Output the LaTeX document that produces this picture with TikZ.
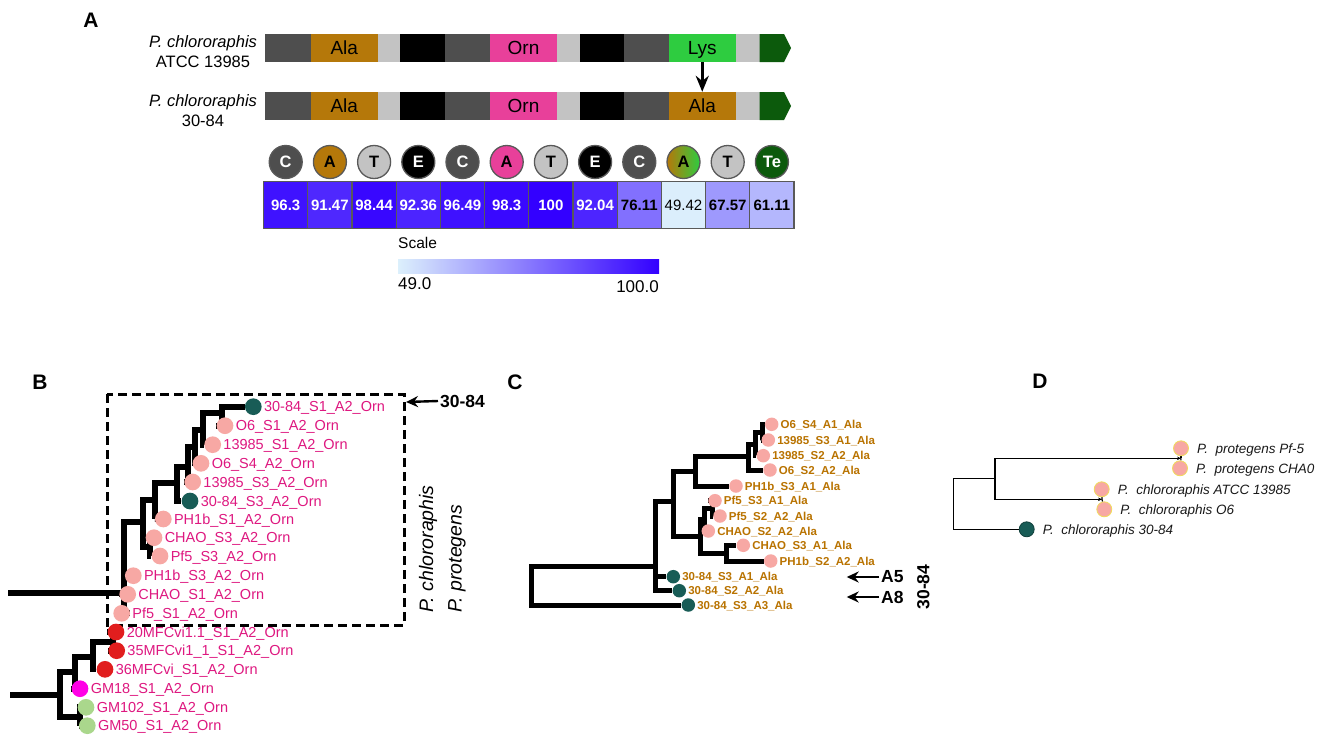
\documentclass[tikz,border=0pt]{standalone}
\usepackage{fontspec}
\setmainfont{Liberation Sans}
\usetikzlibrary{arrows.meta}
\pgfdeclarelayer{bg}
\pgfsetlayers{bg,main}
\definecolor{dg}{RGB}{78,78,78}
\definecolor{ala}{RGB}{181,120,10}
\definecolor{lg}{RGB}{195,195,195}
\definecolor{orn}{RGB}{232,64,154}
\definecolor{lys}{RGB}{46,204,64}
\definecolor{te}{RGB}{12,90,12}
\definecolor{lo}{RGB}{220,240,252}
\definecolor{hi}{RGB}{51,0,255}
\definecolor{tealc}{RGB}{24,92,86}
\definecolor{pinkc}{RGB}{247,168,164}
\definecolor{redc}{RGB}{225,30,30}
\definecolor{magc}{RGB}{255,0,230}
\definecolor{grnc}{RGB}{170,215,140}
\definecolor{ornlab}{RGB}{222,24,128}
\definecolor{alalab}{RGB}{185,115,0}
\definecolor{yelc}{RGB}{240,220,90}
\tikzset{
  seg/.style={rectangle, inner sep=0pt, minimum height=28pt, text height=13.7pt, text depth=0pt, font=\fontsize{19}{19}\selectfont},
  dom/.style={circle, inner sep=0pt, minimum size=33pt, draw=black!65, line width=1.3pt, font=\bfseries\fontsize{16.5}{16.5}\selectfont},
  idbox/.style={rectangle, inner sep=0pt, minimum width=44.2pt, minimum height=47pt, draw=black!65, line width=1.2pt, font=\fontsize{15}{15}\selectfont},
  panel/.style={inner sep=0pt, font=\bfseries\fontsize{21}{21}\selectfont},
  spA/.style={align=center, inner sep=0pt, font=\fontsize{16.5}{20}\selectfont},
  treeB/.style={line width=6pt},
  treeC/.style={line width=5pt},
  treeD/.style={line width=1.2pt},
  leafB/.style={circle, inner sep=0pt, minimum size=16.7pt},
  leafC/.style={circle, inner sep=0pt, minimum size=13.5pt},
  leafD/.style={circle, inner sep=0pt, minimum size=15pt, draw=yelc, line width=0.8pt},
  labB/.style={anchor=west, inner sep=0pt, text=ornlab, text height=10.4pt, text depth=0pt, font=\fontsize{14.5}{14.5}\selectfont},
  labC/.style={anchor=west, inner sep=0pt, text=alalab, text height=8.3pt, text depth=0pt, font=\bfseries\fontsize{11.5}{11.5}\selectfont},
  labD/.style={anchor=west, inner sep=0pt, text=black!90, text height=9.7pt, text depth=0pt, font=\itshape\fontsize{13.5}{13.5}\selectfont},
  sidelab/.style={inner sep=2pt, font=\bfseries\fontsize{17.5}{17.5}\selectfont},
  rotlab/.style={rotate=90, anchor=west, inner sep=0pt, font=\itshape\fontsize{19.5}{19.5}\selectfont},
  arrow/.style={line width=2.4pt, -{Stealth[length=12pt,width=11pt]}},
}
\begin{document}
\begin{tikzpicture}[x=1pt,y=-1pt]
\useasboundingbox (0,0) rectangle (1325,745);
\begin{pgfonlayer}{bg}
\fill[white] (0,0) rectangle (1325,745);
\end{pgfonlayer}

% ---------- panel labels
\node[panel] (pA) at (91,20) {A};
\node[panel] (pB) at (40,382) {B};
\node[panel] (pC) at (515,382) {C};
\node[panel] (pD) at (1040,381) {D};

% ---------- panel A
\node[spA] (sp1) at (203,52) {{\itshape P. chlororaphis}\\ATCC 13985};
\node[spA] (sp2) at (203,111) {{\itshape P. chlororaphis}\\30-84};

\foreach \r/\yy/\lab/\col in {1/48/Lys/lys, 2/106/Ala/ala} {
  \node[seg, fill=dg, minimum width=46pt] (r\r-s1) at (288,\yy) {};
  \node[seg, fill=ala, minimum width=66.5pt] (r\r-s2) at (344.25,\yy) {Ala};
  \node[seg, fill=lg, minimum width=22.5pt] (r\r-s3) at (388.75,\yy) {};
  \node[seg, fill=black, minimum width=45pt] (r\r-s4) at (422.5,\yy) {};
  \node[seg, fill=dg, minimum width=45pt] (r\r-s5) at (467.5,\yy) {};
  \node[seg, fill=orn, minimum width=67pt] (r\r-s6) at (523.5,\yy) {Orn};
  \node[seg, fill=lg, minimum width=23pt] (r\r-s7) at (568.5,\yy) {};
  \node[seg, fill=black, minimum width=44pt] (r\r-s8) at (602,\yy) {};
  \node[seg, fill=dg, minimum width=45pt] (r\r-s9) at (646.5,\yy) {};
  \node[seg, fill=\col, minimum width=66.5pt] (r\r-s10) at (702.25,\yy) {\lab};
  \node[seg, fill=lg, minimum width=24pt] (r\r-s11) at (747.5,\yy) {};
  \fill[te] (759.5,{\yy-14}) -- (784,{\yy-14}) -- (791,\yy) -- (784,{\yy+14}) -- (759.5,{\yy+14}) -- cycle;
}
\draw[line width=2.8pt, -{Stealth[length=16pt,width=13pt]}] (r1-s10.south) -- (r2-s10.north);

\foreach \i/\lt/\fc/\tc in {0/C/dg/white, 1/A/ala/black, 2/T/lg/black, 3/E/black/white, 4/C/dg/white, 5/A/orn/black, 6/T/lg/black, 7/E/black/white, 8/C/dg/white, 10/T/lg/black, 11/Te/te/white}
  \node[dom, fill=\fc, text=\tc] (d\i) at ({285.7+44.2*\i},162) {\lt};
\node[dom, left color=ala, right color=lys, text=black] (d9) at ({285.7+44.2*9},162) {A};

\foreach \i/\v/\t/\tc/\fw in {0/96.3/92.7/white/\bfseries, 1/91.47/83.3/white/\bfseries, 2/98.44/96.9/white/\bfseries, 3/92.36/85/white/\bfseries, 4/96.49/93.1/white/\bfseries, 5/98.3/96.7/white/\bfseries, 6/100/100/white/\bfseries, 7/92.04/84.4/white/\bfseries, 8/76.11/53.2/black/\bfseries, 9/49.42/0.8/black/\mdseries, 10/67.57/36.4/black/\bfseries, 11/61.11/23.7/black/\bfseries}
  \node[idbox, fill=hi!\t!lo, text=\tc] (v\i) at ({285.7+44.2*\i},205) {\fw\v};

\node[anchor=west, inner sep=0pt, font=\fontsize{15.5}{15.5}\selectfont] (scl) at (398,243) {Scale};
\shade[left color=lo, right color=hi] (398,259) rectangle (659,273);
\node[anchor=north west, inner sep=0pt, font=\fontsize{17}{17}\selectfont] (s49) at (398,277) {49.0};
\node[anchor=north east, inner sep=0pt, font=\fontsize{17}{17}\selectfont] (s100) at (659,280) {100.0};

% ---------- panel B
\draw[line width=3pt, dash pattern=on 9pt off 5pt] (107,394) rectangle (404,625);
\foreach \n/\x/\y/\c/\t in {
  1/253.3/406.7/tealc/30-84\_S1\_A2\_Orn,
  2/225/425.7/pinkc/O6\_S1\_A2\_Orn,
  3/212.7/444.7/pinkc/13985\_S1\_A2\_Orn,
  4/201/463.3/pinkc/O6\_S4\_A2\_Orn,
  5/192.7/482/pinkc/13985\_S3\_A2\_Orn,
  6/190/501/tealc/30-84\_S3\_A2\_Orn,
  7/163.3/519/pinkc/PH1b\_S1\_A2\_Orn,
  8/154/537.7/pinkc/CHAO\_S3\_A2\_Orn,
  9/160/556/pinkc/Pf5\_S3\_A2\_Orn,
  10/133.3/575.7/pinkc/PH1b\_S3\_A2\_Orn,
  11/127.7/594.3/pinkc/CHAO\_S1\_A2\_Orn,
  12/121.7/613.3/pinkc/Pf5\_S1\_A2\_Orn,
  13/116/632/redc/20MFCvi1.1\_S1\_A2\_Orn,
  14/116.7/650.7/redc/35MFCvi1\_1\_S1\_A2\_Orn,
  15/105/669.3/redc/36MFCvi\_S1\_A2\_Orn,
  16/80/688.7/magc/GM18\_S1\_A2\_Orn,
  17/86/707.3/grnc/GM102\_S1\_A2\_Orn,
  18/87.3/725.7/grnc/GM50\_S1\_A2\_Orn} {
  \node[leafB, fill=\c] (b\n) at (\x,\y) {};
  \node[labB] (bt\n) at ([xshift=2pt]b\n.east) {\t};
}
\coordinate (rB) at (8,593);
\coordinate (n1) at (124,593);
\coordinate (n2) at (143.3,521.7);
\coordinate (n2b) at (150,547);
\coordinate (n3) at (155,500);
\coordinate (n4) at (176.7,483);
\coordinate (n5) at (188,467);
\coordinate (n6) at (195,447);
\coordinate (n7) at (203,430);
\coordinate (n8) at (221.7,413);
\coordinate (rB2) at (10,695);
\coordinate (m1) at (60,695);
\coordinate (m2) at (75,671.7);
\coordinate (m3) at (93.3,656.7);
\coordinate (m4) at (113.3,641.7);
\coordinate (m5) at (80,716.7);
\begin{pgfonlayer}{bg}
\draw[treeB] (rB) -- (n1);
\draw[treeB] (n1) |- (b10); \draw[treeB] (n1) |- (b11); \draw[treeB] (n1) |- (b12); \draw[treeB] (n1) |- (n2);
\draw[treeB] (n2) |- (n3); \draw[treeB] (n2) |- (n2b);
\draw[treeB] (n2b) |- (b8); \draw[treeB] (n2b) |- (b9);
\draw[treeB] (n3) |- (n4); \draw[treeB] (n3) |- (b7);
\draw[treeB] (n4) |- (n5); \draw[treeB] (n4) |- (b6);
\draw[treeB] (n5) |- (n6); \draw[treeB] (n5) |- (b5);
\draw[treeB] (n6) |- (n7); \draw[treeB] (n6) |- (b4);
\draw[treeB] (n7) |- (n8); \draw[treeB] (n7) |- (b3);
\draw[treeB] (n8) |- (b1); \draw[treeB] (n8) |- (b2);
\draw[treeB] (rB2) -- (m1);
\draw[treeB] (m1) |- (m2); \draw[treeB] (m1) |- (m5);
\draw[treeB] (m2) |- (m3); \draw[treeB] (m2) |- (b16);
\draw[treeB] (m3) |- (m4); \draw[treeB] (m3) |- (b15);
\draw[treeB] (m4) |- (b13); \draw[treeB] (m4) |- (b14);
\draw[treeB] (m5) |- (b17); \draw[treeB] (m5) |- (b18);
\end{pgfonlayer}
\node[sidelab, anchor=west] (t3084B) at (438,401) {30-84};
\coordinate (tipB) at (406,402);
\draw[arrow] (t3084B.west) -- (tipB);
\node[rotlab] (rot1) at (428,613) {P. chlororaphis};
\node[rotlab] (rot2) at (457,613) {P. protegens};

% ---------- panel C
\foreach \n/\x/\y/\c/\t in {
  1/771.7/424.3/pinkc/O6\_S4\_A1\_Ala,
  2/768.3/440/pinkc/13985\_S3\_A1\_Ala,
  3/763.3/455.7/pinkc/13985\_S2\_A2\_Ala,
  4/770/470/pinkc/O6\_S2\_A2\_Ala,
  5/736/486/pinkc/PH1b\_S3\_A1\_Ala,
  6/715/500.7/pinkc/Pf5\_S3\_A1\_Ala,
  7/720/516/pinkc/Pf5\_S2\_A2\_Ala,
  8/708.3/531/pinkc/CHAO\_S2\_A2\_Ala,
  9/743.3/545.3/pinkc/CHAO\_S3\_A1\_Ala,
  10/770.7/561/pinkc/PH1b\_S2\_A2\_Ala,
  11/673.3/576.7/tealc/30-84\_S3\_A1\_Ala,
  12/679.3/590.7/tealc/30-84\_S2\_A2\_Ala,
  13/688.3/605/tealc/30-84\_S3\_A3\_Ala} {
  \node[leafC, fill=\c] (c\n) at (\x,\y) {};
  \node[labC] (ct\n) at ([xshift=1.8pt]c\n.east) {\t};
}
\coordinate (rC) at (531.7,585);
\coordinate (k1) at (655,566.7);
\coordinate (k2) at (673.3,501.7);
\coordinate (k3) at (695,471.7);
\coordinate (k4) at (748.3,456.7);
\coordinate (k5) at (755,444);
\coordinate (k6) at (762,432);
\coordinate (k7) at (700,536);
\coordinate (k8) at (704,519.5);
\coordinate (k9) at (712,508);
\coordinate (k10) at (726.7,553);
\begin{pgfonlayer}{bg}
\draw[treeC] (rC) |- (k1); \draw[treeC] (rC) |- (c13);
\draw[treeC] (k1) |- (k2); \draw[treeC] (k1) |- (c11); \draw[treeC] (k1) |- (c12);
\draw[treeC] (k2) |- (k3); \draw[treeC] (k2) |- (k7);
\draw[treeC] (k3) |- (k4); \draw[treeC] (k3) |- (c5);
\draw[treeC] (k4) |- (k5); \draw[treeC] (k4) |- (c4);
\draw[treeC] (k5) |- (k6); \draw[treeC] (k5) |- (c3);
\draw[treeC] (k6) |- (c1); \draw[treeC] (k6) |- (c2);
\draw[treeC] (k7) |- (k8); \draw[treeC] (k7) |- (k10);
\draw[treeC] (k8) |- (k9); \draw[treeC] (k8) |- (c8);
\draw[treeC] (k9) |- (c6); \draw[treeC] (k9) |- (c7);
\draw[treeC] (k10) |- (c9); \draw[treeC] (k10) |- (c10);
\end{pgfonlayer}
\node[sidelab, anchor=west] (tA5) at (879,577) {A5};
\coordinate (tipA5) at (846.7,577);
\draw[arrow] (tA5.west) -- (tipA5);
\node[sidelab, anchor=west] (tA8) at (879,597) {A8};
\coordinate (tipA8) at (846.7,597);
\draw[arrow] (tA8.west) -- (tipA8);
\node[sidelab, rotate=90] (t3084C) at (923.3,587) {30-84};

% ---------- panel D
\foreach \n/\x/\y/\c/\t in {
  1/1181/448.3/pinkc/{P.\ \ protegens Pf-5},
  2/1180/468.3/pinkc/{P.\ \ protegens CHA0},
  3/1101.7/489.3/pinkc/{P.\ \ chlororaphis ATCC 13985},
  4/1104.3/509.3/pinkc/{P.\ \ chlororaphis O6}} {
  \node[leafD, fill=\c] (dl\n) at (\x,\y) {};
  \node[labD] (dt\n) at ([xshift=8pt]dl\n.east) {\t};
}
\node[leafD, fill=tealc, draw=tealc!70!black] (dl5) at (1026.7,529.3) {};
\node[labD] (dt5) at ([xshift=8pt]dl5.east) {P.\ \ chlororaphis 30-84};
\coordinate (dr) at (953.3,500);
\coordinate (dd1) at (995,478.3);
\coordinate (dd2) at (1181,458.3);
\coordinate (dd3) at (1102,499.3);
\begin{pgfonlayer}{bg}
\draw[treeD] (dr) |- (dd1); \draw[treeD] (dr) |- (dl5);
\draw[treeD, -{Stealth[length=4pt,width=3.5pt]}] (dd1) |- (dd2);
\draw[treeD, -{Stealth[length=4pt,width=3.5pt]}] (dd1) |- (dd3);
\draw[treeD] (dd2) -- (dl1); \draw[treeD] (dd2) -- (dl2);
\draw[treeD] (dd3) -- (dl3); \draw[treeD] (dd3) -- (dl4);
\end{pgfonlayer}
\end{tikzpicture}
\end{document}
